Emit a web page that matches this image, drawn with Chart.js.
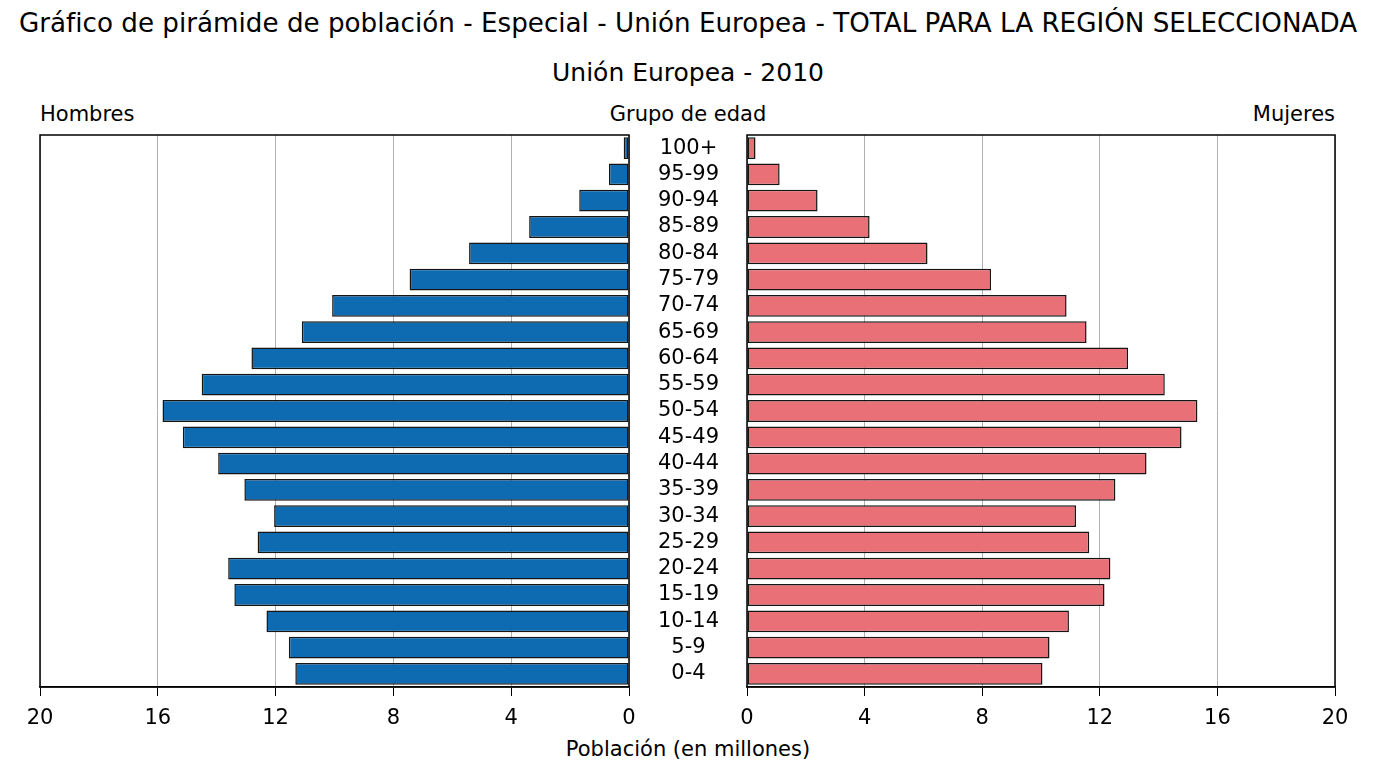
<!DOCTYPE html>
<html lang="es">
<head>
    <meta charset="UTF-8">
    <title>Pirámide de población - Unión Europea 2010</title>
    <script src="https://cdn.jsdelivr.net/npm/chart.js"></script>
    <style>
        body { margin: 0; background: #fff; font-family: "DejaVu Sans", sans-serif; color: #000; }
        #page { position: relative; width: 1376px; height: 768px; overflow: hidden; }
        .txt { position: absolute; white-space: nowrap; line-height: 1; }
        .box { position: absolute; top: 0; height: 768px; }
    </style>
</head>
<body>
<div id="page">
    <div class="txt" style="left:0;width:1376px;text-align:center;top:10px;font-size:26.2px;">Gráfico de pirámide de población - Especial - Unión Europea - TOTAL PARA LA REGIÓN SELECCIONADA</div>
    <div class="txt" style="left:0;width:1376px;text-align:center;top:60px;font-size:25px;">Unión Europea - 2010</div>
    <div class="txt" style="left:40px;top:104px;font-size:21px;">Hombres</div>
    <div class="txt" style="left:0;width:1376px;text-align:center;top:104px;font-size:21px;">Grupo de edad</div>
    <div class="txt" style="right:41px;top:104px;font-size:21px;">Mujeres</div>
    <div class="txt" style="left:0;width:1376px;text-align:center;top:739px;font-size:21px;">Población (en millones)</div>

    <div class="box" style="left:0;width:660px;"><canvas id="leftChart"></canvas></div>
    <div class="box" style="left:600px;width:776px;"><canvas id="rightChart"></canvas></div>
</div>

<script>
    // age groups, youngest first (drawn bottom-up)
    const ageGroups = ['0-4', '5-9', '10-14', '15-19', '20-24', '25-29', '30-34', '35-39', '40-44',
        '45-49', '50-54', '55-59', '60-64', '65-69', '70-74', '75-79', '80-84', '85-89', '90-94', '95-99', '100+'];

    // millions of people
    const hombres = [11.33, 11.55, 12.31, 13.40, 13.61, 12.61, 12.05, 13.06, 13.95,
        15.15, 15.84, 14.51, 12.82, 11.11, 10.08, 7.45, 5.43, 3.39, 1.69, 0.68, 0.18];
    const mujeres = [10.05, 10.29, 10.95, 12.16, 12.36, 11.64, 11.19, 12.53, 13.59,
        14.78, 15.32, 14.21, 12.96, 11.55, 10.87, 8.30, 6.14, 4.17, 2.40, 1.11, 0.29];

    const xTicks = [0, 4, 8, 12, 16, 20];

    Chart.defaults.font.family = '"DejaVu Sans", sans-serif';
    Chart.defaults.font.size = 21;
    Chart.defaults.color = '#000';

    // black frame around the plot area (all four spines)
    const frame = {
        id: 'frame',
        afterDraw(chart) {
            const a = chart.chartArea, ctx = chart.ctx;
            ctx.save();
            ctx.strokeStyle = '#000';
            ctx.lineWidth = 1.5;
            ctx.strokeRect(a.left, a.top, a.right - a.left, a.bottom - a.top);
            ctx.restore();
        }
    };

    function xScale(reverse) {
        return {
            type: 'linear',
            reverse: reverse,
            min: xTicks[0],
            max: xTicks[xTicks.length - 1],
            afterBuildTicks: s => { s.ticks = xTicks.map(v => ({ value: v })); },
            afterFit: s => { s.height = 81; },
            grid: { color: '#b0b0b0', lineWidth: 1, tickColor: '#000', tickLength: 9 },
            border: { display: true, color: '#000', width: 1.5 },
            ticks: { padding: 10, font: { size: 21 }, maxRotation: 0 }
        };
    }

    function makeChart(id, values, color, left) {
        return new Chart(document.getElementById(id), {
            type: 'bar',
            data: {
                labels: ageGroups,
                datasets: [{
                    data: values,
                    backgroundColor: color,
                    borderColor: '#151515',
                    borderWidth: 1.5,
                    borderSkipped: false,
                    barPercentage: 0.83,
                    categoryPercentage: 1
                }]
            },
            options: {
                indexAxis: 'y',
                responsive: true,
                maintainAspectRatio: false,
                animation: false,
                layout: { padding: left ? { left: 40, right: 31, top: 135, bottom: 0 } : { left: 29, right: 41, top: 135, bottom: 0 } },
                plugins: { legend: { display: false }, tooltip: { enabled: false } },
                scales: {
                    x: xScale(left),
                    y: {
                        type: 'category',
                        reverse: true,
                        display: !left,
                        afterFit: s => { s.width = left ? 0 : 118; },
                        grid: { display: false, drawTicks: false },
                        border: { display: false },
                        ticks: { crossAlign: 'center', padding: 28, autoSkip: false, font: { size: 21 } }
                    }
                }
            },
            plugins: [frame]
        });
    }

    makeChart('leftChart', hombres, '#0f6bb1', true);
    makeChart('rightChart', mujeres, '#ea7078', false);
</script>
</body>
</html>
